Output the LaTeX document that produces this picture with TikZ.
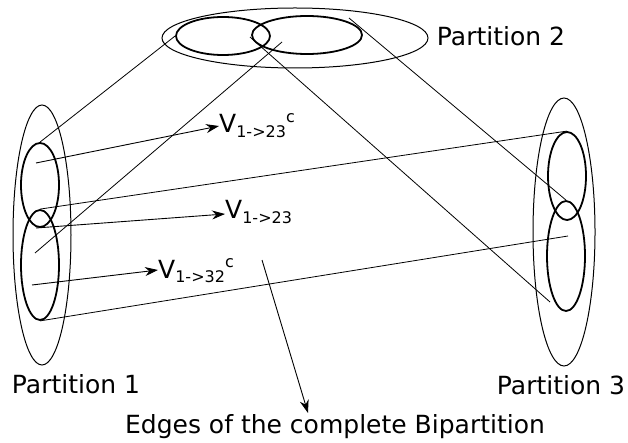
\documentclass[tikz,border=0pt]{standalone}
\usepackage{fontspec}
\setmainfont{DejaVu Sans}
\usetikzlibrary{arrows.meta, shapes.geometric, calc}

\newcommand{\sublab}[2]{V\raisebox{-5pt}{\fontsize{16}{16}\selectfont #1}\raisebox{10pt}{\fontsize{16}{16}\selectfont #2}}

\begin{document}
\begin{tikzpicture}[
    x=1pt, y=-1pt,
    outer/.style={draw, ellipse, inner sep=0pt, line width=1pt},
    inner/.style={draw, ellipse, inner sep=0pt, line width=1.8pt},
    lab/.style={inner sep=0pt, font=\fontsize{25}{30}\selectfont},
    edge/.style={line width=0.8pt},
    arr/.style={-{Stealth[length=13pt, width=9pt]}, line width=0.9pt}
]
    \useasboundingbox (0,0) rectangle (628,443);

    % partitions
    \node[outer, minimum width=266pt, minimum height=60pt] (p2) at (295,38) {};
    \node[inner, minimum width=94pt, minimum height=38pt] (p2a) at (223,36) {};
    \node[inner, minimum width=110pt, minimum height=38pt] (p2b) at (307,35) {};

    \node[outer, minimum width=58pt, minimum height=260pt] (p1) at (42,235) {};
    \node[inner, minimum width=38pt, minimum height=84pt] (p1a) at (40,185) {};
    \node[inner, minimum width=38pt, minimum height=110pt] (p1b) at (40,265) {};

    \node[outer, minimum width=62pt, minimum height=268pt] (p3) at (564,232) {};
    \node[inner, minimum width=38pt, minimum height=88pt] (p3a) at (567,176) {};
    \node[inner, minimum width=38pt, minimum height=110pt] (p3b) at (566,256) {};

    \node[lab, anchor=base] (l1) at (76,393) {Partition 1};
    \node[lab, anchor=base] (l2) at (501,46) {Partition 2};
    \node[lab, anchor=base] (l3) at (561,394) {Partition 3};

    % edge end points
    \coordinate (a1) at (35,253);
    \coordinate (a2) at (282,42);
    \coordinate (b1) at (250,37);
    \coordinate (b2) at (550,302);
    \coordinate (c1) at (349,18);
    \coordinate (d2) at (568,236);

    \draw[edge] (p1a.north) -- (p2a.west);
    \draw[edge] (a1) -- (a2);
    \draw[edge] (b1) -- (b2);
    \draw[edge] (c1) -- (p3b.north);
    \draw[edge] (p1b.north) -- (p3a.north);
    \draw[edge] (p1b.south) -- (d2);

    % vertex sets
    \node[lab, anchor=base west] (va) at (219,133) {\sublab{1->23}{c}};
    \node[lab, anchor=base west] (vb) at (225,219) {\sublab{1->23}{}};
    \node[lab, anchor=base west] (vc) at (158,278) {\sublab{1->32}{c}};

    \coordinate (s1) at (36,163);
    \coordinate (s2) at (36,228);
    \coordinate (s3) at (32,285);
    \draw[arr] (s1) -- ([yshift=7pt]va.base west);
    \draw[arr] (s2) -- ([yshift=5pt]vb.base west);
    \draw[arr] (s3) -- ([yshift=8pt]vc.base west);

    % caption
    \node[lab, anchor=base] (cap) at (335,433) {Edges of the complete Bipartition};
    \coordinate (s4) at (262,260);
    \draw[arr] (s4) -- ([xshift=-27pt, yshift=20pt]cap.base);
\end{tikzpicture}
\end{document}
